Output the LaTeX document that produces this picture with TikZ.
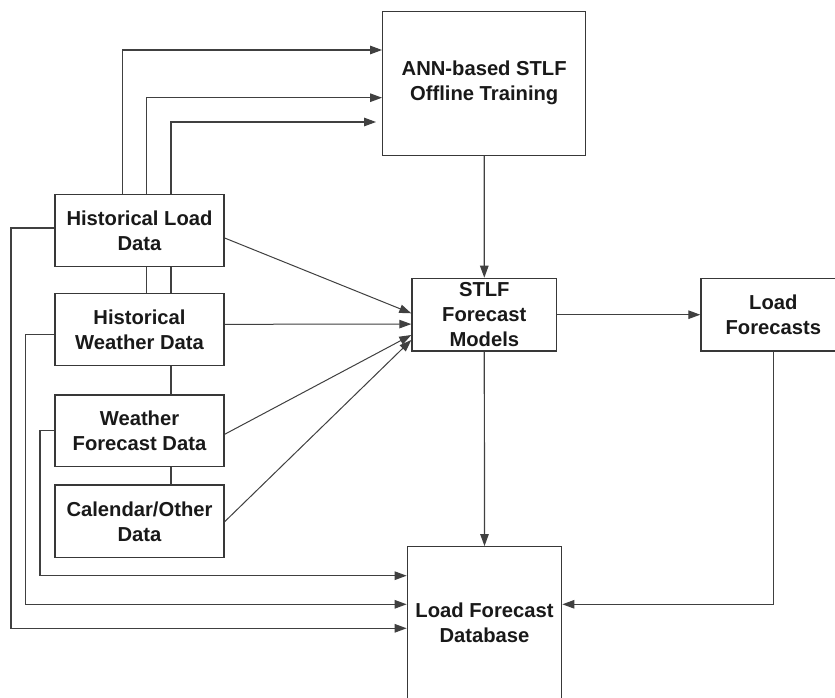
\documentclass[tikz,border=0pt]{standalone}
\usepackage{fontspec}
\setmainfont{Liberation Sans}
\usetikzlibrary{arrows.meta,calc,backgrounds}

\begin{document}
\begin{tikzpicture}[x=1pt,y=-1pt,
  box/.style={rectangle, draw=black!78, line width=1.3pt, fill=white,
    text=black!90, font=\bfseries\fontsize{20.2}{25}\selectfont,
    align=center, inner sep=0pt},
  link/.style={draw=black!75, line width=1.2pt,
    -{Triangle[length=12pt,width=8.5pt]}}
]
\useasboundingbox (0,0) rectangle (835,698);
\clip (0,0) rectangle (835,698);

% process blocks
\node[box, minimum width=203pt, minimum height=144pt] (ann) at (484.2,83.2)
  {ANN-based STLF\\Offline Training};
\node[box, minimum width=144.7pt, minimum height=72.7pt] (stlf) at (484.3,314.7)
  {STLF\\Forecast\\Models};
\node[box, minimum width=144.7pt, minimum height=72.7pt] (lf) at (773.3,314.7)
  {Load\\Forecasts};
\node[box, minimum width=154.4pt, minimum height=152.2pt] (db) at (484.5,622.8)
  {Load Forecast\\Database};

% data sources
\node[box, minimum width=169pt, minimum height=72.4pt] (hld) at (139.5,230.5)
  {Historical Load\\Data};
\node[box, minimum width=169pt, minimum height=72.4pt] (hwd) at (139.5,329.5)
  {Historical\\Weather Data};
\node[box, minimum width=169pt, minimum height=71.7pt] (wfd) at (139.5,430.8)
  {Weather\\Forecast Data};
\node[box, minimum width=169pt, minimum height=72.7pt] (cal) at (139.5,521.3)
  {Calendar/Other\\Data};

\begin{scope}[on background layer]
  \fill[white] (0,0) rectangle (835,698);

  % training inputs
  \draw[link] ($(hld.north)+(-16.8,0)$) |- ($(ann.west)+(0,-33.2)$);
  \draw[link] ($(hwd.north)+(7.2,0)$) |- ($(ann.west)+(0,14.5)$);
  \draw[link, shorten >=6pt] ($(cal.north)+(31.5,0)$) |- ($(ann.west)+(0,38.8)$);

  % main flow
  \draw[link] (ann.south) -- (stlf.north);
  \draw[link] (stlf.south) -- (db.north);
  \draw[link] (stlf.east) -- (lf.west);
  \draw[link] (lf.south) |- ($(db.east)+(0,-18.5)$);

  % inputs to the forecast models
  \draw[link, line width=1pt] ($(hld.east)+(0,7.5)$) -- ($(stlf.west)+(0,-1.4)$);
  \draw[link, line width=1pt] ($(hwd.east)+(0,-5.2)$) -- ($(stlf.west)+(0,9.4)$);
  \draw[link, line width=1pt] ($(wfd.east)+(0,3.5)$) -- ($(stlf.west)+(0,20.3)$);
  \draw[link, line width=1pt] ($(cal.east)+(0,0.4)$) -- ($(stlf.west)+(0,25.3)$);

  % archiving into the database
  \draw[link] ($(hld.west)+(0,-2.5)$) -- ++(-43.3,0) |- ($(db.west)+(0,5.5)$);
  \draw[link] ($(hwd.west)+(0,4.8)$) -- ++(-29,0) |- ($(db.west)+(0,-18.5)$);
  \draw[link] (wfd.west) -- ++(-14.3,0) |- ($(db.west)+(0,-47.1)$);
\end{scope}
\end{tikzpicture}
\end{document}
